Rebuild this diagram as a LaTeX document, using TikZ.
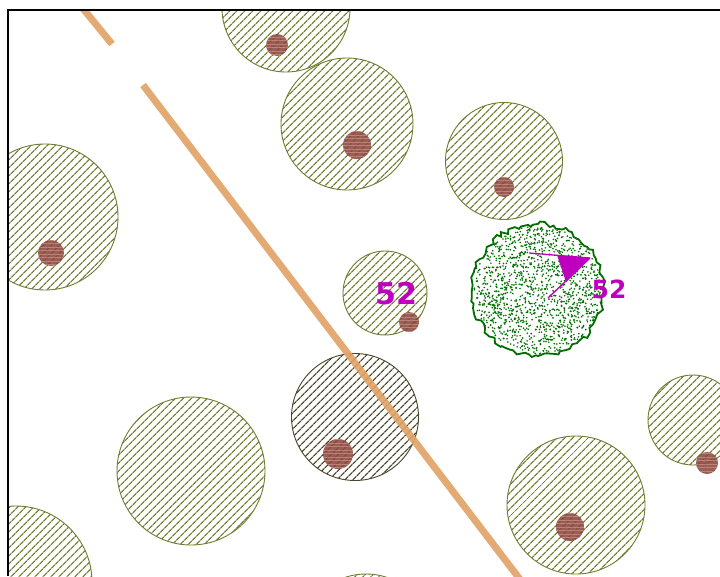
\documentclass[tikz,border=0pt]{standalone}
\usepackage{fontspec}
\newfontfamily\numfont{DejaVu Sans}
\usetikzlibrary{patterns.meta,decorations.pathmorphing,calc}
\definecolor{olivec}{RGB}{112,124,48}
\definecolor{darkolive}{RGB}{70,70,40}
\definecolor{dotbrown}{RGB}{140,72,62}
\definecolor{dotline}{RGB}{190,130,120}
\definecolor{roadc}{RGB}{224,162,100}
\definecolor{blobgreen}{RGB}{0,110,0}
\definecolor{magc}{RGB}{190,0,190}
\tikzset{
  disc/.style={draw=olivec, line width=0.9pt, pattern={Lines[angle=45,distance=5.4pt,line width=1.3pt]}, pattern color=olivec},
  darkdisc/.style={draw=darkolive, line width=0.9pt, pattern={Lines[angle=45,distance=5.4pt,line width=1.3pt]}, pattern color=darkolive},
  seed/.style={fill=dotbrown, fill opacity=0.88},
  seedlines/.style={pattern={Lines[angle=0,distance=3.5pt,line width=0.6pt]}, pattern color=dotline},
  road/.style={draw=roadc, line width=7pt, opacity=0.9},
  numlabel/.style={text=magc, font=\numfont\bfseries, inner sep=0pt}
}
\newcommand{\seeddot}[3]{%
  \fill[seed] (#1,#2) circle[radius=#3pt];
  \fill[seedlines] (#1,#2) circle[radius=#3pt];}
\begin{document}
\begin{tikzpicture}[x=1pt,y=-1pt]
\useasboundingbox (0,0) rectangle (720,576);
\fill[white] (0,0) rectangle (720,576);
\begin{scope}
\clip (8,10) rectangle (720,576);
% hatched discs
\draw[disc] (286,8) circle[radius=64pt];
\draw[disc] (347,124) circle[radius=66pt];
\draw[disc] (504,161) circle[radius=58.5pt];
\draw[disc] (45,217) circle[radius=73pt];
\draw[disc] (385,293) circle[radius=42pt];
\draw[darkdisc] (355,417) circle[radius=63.5pt];
\draw[disc] (191,471) circle[radius=74pt];
\draw[disc] (16,582) circle[radius=76pt];
\draw[disc] (693,420) circle[radius=45pt];
\draw[disc] (576,505) circle[radius=69pt];
\draw[disc] (366,640) circle[radius=66pt];
% seeds
\seeddot{277}{45}{11}
\seeddot{357}{145}{14}
\seeddot{504}{187}{10}
\seeddot{51}{253}{13}
\seeddot{409}{322}{10}
\seeddot{338}{454}{15}
\seeddot{707}{463}{11}
\seeddot{570}{527}{14}
% road
\coordinate (r0) at (76,0);
\coordinate (r1) at (112,44);
\coordinate (r2) at (143,85);
\coordinate (r3) at (522,582);
\draw[road] (r0) -- (r1);
\draw[road] (r2) -- (r3);
% green blob
\pgfmathsetseed{7}
\draw[blobgreen, line width=1.8pt, fill=white, decorate, decoration={random steps, segment length=4pt, amplitude=2.6pt}] (538,290) circle[radius=66pt];
\foreach \i in {1,...,1400}{
  \pgfmathsetmacro{\rr}{64*sqrt(rnd)}
  \pgfmathsetmacro{\aa}{360*rnd}
  \fill[blobgreen] ($(538,290)+(\aa:\rr)$) circle[radius=0.9pt];
}
% arrow
\coordinate (a0) at (548,298);
\coordinate (a1) at (590,258);
\coordinate (a2) at (529,253);
\coordinate (h1) at (557,255);
\coordinate (h2) at (566,282);
\fill[magc] (h1) -- (a1) -- (h2) -- cycle;
\draw[magc, line width=1.3pt] (a0) -- (a1);
\draw[magc, line width=1.3pt] (a2) -- (a1);
\end{scope}
% labels
\node[numlabel, font=\numfont\bfseries\fontsize{30}{30}\selectfont] (lab1) at (396,294) {52};
\node[numlabel, font=\numfont\bfseries\fontsize{25}{25}\selectfont] (lab2) at (609,289) {52};
% frame
\draw[black, line width=1.5pt] (8,576) -- (8,10) -- (720,10);
\end{tikzpicture}
\end{document}
